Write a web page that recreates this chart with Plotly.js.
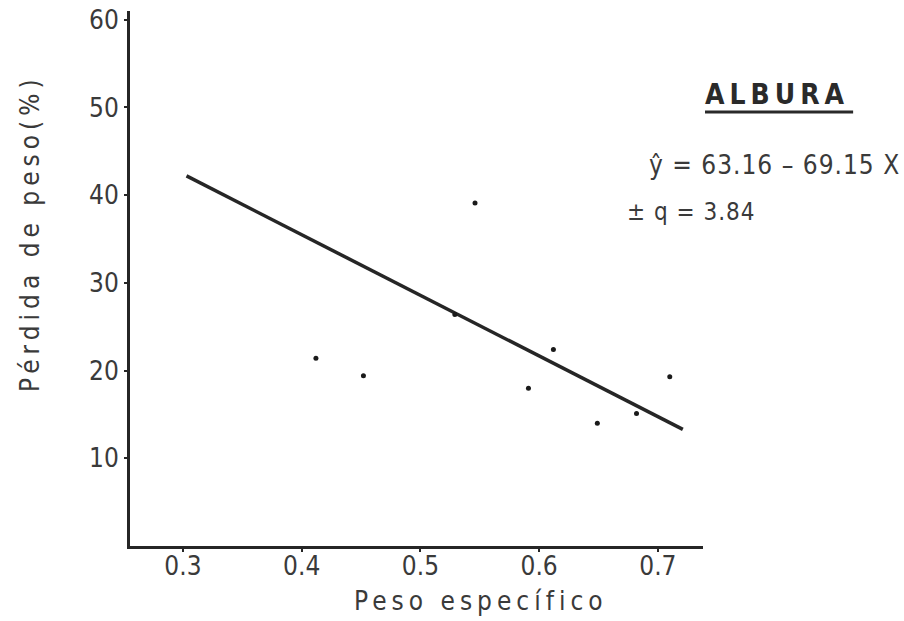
<!DOCTYPE html>
<html>
<head>
<meta charset="utf-8">
<script src="https://cdn.plot.ly/plotly-3.0.1.min.js"></script>
<style>
  html, body { margin: 0; padding: 0; background: #ffffff; }
  #chart { width: 904px; height: 621px; }
</style>
</head>
<body>
<div id="chart"></div>
<script>
// Observed points: specific gravity (x) vs. weight loss % (y)
var pesoEspecifico = [0.412, 0.452, 0.529, 0.546, 0.591, 0.612, 0.649, 0.682, 0.710];
var perdidaPeso    = [21.4, 19.4, 26.4, 39.1, 18.0, 22.4, 14.0, 15.1, 19.3];

// Regression line end points as drawn
var rectaX = [0.303, 0.721];
var rectaY = [42.2, 13.3];

// Tick values and labels
var xTickVals = [0.3, 0.4, 0.5, 0.6, 0.7];
var xTickText = ['0.3', '0.4', '0.5', '0.6', '0.7'];
var yTickVals = [10, 20, 30, 40, 50, 60];
var yTickText = ['10', '20', '30', '40', '50', '60'];

// Texts
var tituloX = 'Peso específico';
var tituloY = 'Pérdida de peso(%)';
var rotulo = 'ALBURA';
var ecuacion = 'ŷ = 63.16 – 69.15 X';
var errorTxt = '± q = 3.84';

var ink = '#262626';
var textInk = '#3a3a3a';
var fam = '"DejaVu Sans Condensed", "Liberation Sans Narrow", "DejaVu Sans", sans-serif';

var traces = [
  {
    x: rectaX, y: rectaY, type: 'scatter', mode: 'lines',
    line: { color: ink, width: 3.5 }, hoverinfo: 'skip', showlegend: false
  },
  {
    x: pesoEspecifico, y: perdidaPeso, type: 'scatter', mode: 'markers',
    marker: { color: '#1a1a1a', size: 5 }, showlegend: false
  }
];

function spaced(t, px) {
  return '<span style="letter-spacing:' + px + 'px">' + t + '</span>';
}

var layout = {
  width: 904, height: 621,
  paper_bgcolor: '#ffffff', plot_bgcolor: '#ffffff',
  margin: { l: 130, r: 201, t: 11, b: 75 },
  showlegend: false,
  font: { family: fam, color: textInk, size: 25 },
  xaxis: {
    range: [0.2554, 0.738],
    tickvals: xTickVals, ticktext: xTickText,
    showline: true, linewidth: 3, linecolor: ink,
    ticks: 'outside', ticklen: 3, tickwidth: 2, tickcolor: ink,
    ticklabelstandoff: -8,
    showgrid: false, zeroline: false,
    tickfont: { family: fam, size: 26, color: textInk },
    fixedrange: true
  },
  yaxis: {
    range: [0, 61],
    tickvals: yTickVals, ticktext: yTickText,
    showline: true, linewidth: 3, linecolor: ink,
    ticks: 'outside', ticklen: 3, tickwidth: 2, tickcolor: ink,
    ticklabelstandoff: 0,
    showgrid: false, zeroline: false,
    tickfont: { family: fam, size: 26, color: textInk },
    fixedrange: true
  },
  annotations: [
    {
      text: spaced(tituloX, 5), xref: 'paper', yref: 'paper',
      x: 0.6126, y: -0.103, xanchor: 'center', yanchor: 'middle',
      showarrow: false, font: { family: fam, size: 26, color: textInk }
    },
    {
      text: spaced(tituloY, 5), xref: 'paper', yref: 'paper',
      x: -0.1745, y: 0.585, xanchor: 'center', yanchor: 'middle',
      textangle: -90, showarrow: false,
      font: { family: fam, size: 26, color: textInk }
    },
    {
      text: '<b>' + spaced(rotulo, 5) + '</b>', xref: 'paper', yref: 'paper',
      x: 1.13, y: 0.843, xanchor: 'center', yanchor: 'middle',
      showarrow: false, font: { family: fam, size: 28, color: '#2a2a2a' }
    },
    {
      text: spaced(ecuacion, 1), xref: 'paper', yref: 'paper',
      x: 0.902, y: 0.712, xanchor: 'left', yanchor: 'middle',
      showarrow: false, font: { family: fam, size: 26, color: textInk }
    },
    {
      text: spaced(errorTxt, 1), xref: 'paper', yref: 'paper',
      x: 0.864, y: 0.624, xanchor: 'left', yanchor: 'middle',
      showarrow: false, font: { family: fam, size: 24, color: textInk }
    }
  ],
  shapes: [
    {
      type: 'line', xref: 'paper', yref: 'paper',
      x0: 1.0035, x1: 1.262, y0: 0.811, y1: 0.811,
      line: { color: '#2a2a2a', width: 3 }
    }
  ]
};

Plotly.newPlot('chart', traces, layout, { displayModeBar: false, staticPlot: true });
</script>
</body>
</html>
